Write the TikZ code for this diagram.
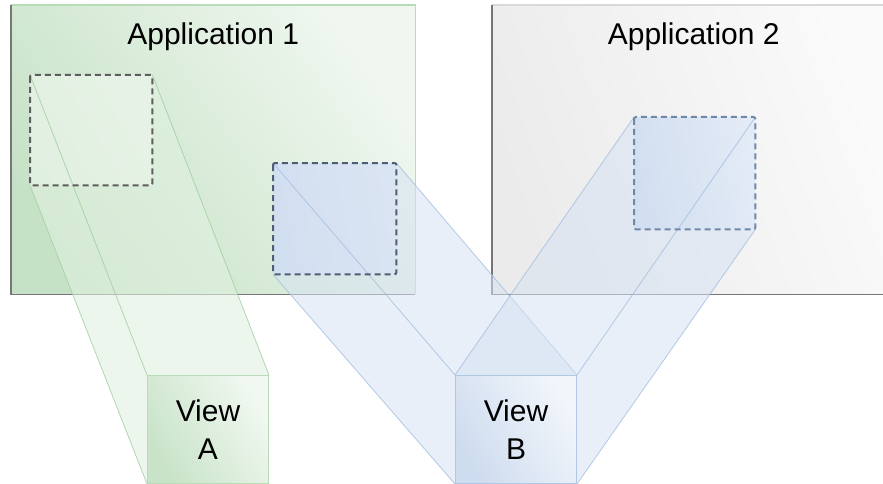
\documentclass[tikz,border=0pt]{standalone}
\usepackage{fontspec}
\setmainfont{Liberation Sans}
\usepackage{xcolor}
\usetikzlibrary{positioning}

\definecolor{appgreenlo}{HTML}{C6E2C6}
\definecolor{appgreenhi}{HTML}{F0F7F0}
\definecolor{appgreenedge}{HTML}{B8DBB8}
\definecolor{appgraylo}{HTML}{EBEBEB}
\definecolor{appgrayhi}{HTML}{FAFAFA}
\definecolor{shadowgray}{HTML}{767676}
\definecolor{viewgreenlo}{HTML}{C8E3C8}
\definecolor{viewgreenhi}{HTML}{F1F8F1}
\definecolor{viewbluelo}{HTML}{CEDCEF}
\definecolor{viewbluehi}{HTML}{F2F6FB}
\definecolor{viewblueedge}{HTML}{B0C8E4}
\definecolor{projgreen}{HTML}{E0F0E0}
\definecolor{projblue}{HTML}{D6E2F2}
\definecolor{edgegreen}{HTML}{A0CEA0}
\definecolor{edgeblue}{HTML}{A2BEDF}
\definecolor{dashgray}{HTML}{5E5E5E}
\definecolor{dashslate}{HTML}{4E5E76}
\definecolor{dashblue}{HTML}{7088A8}

\pgfdeclarelayer{bg}
\pgfdeclarelayer{proj}
\pgfsetlayers{bg,proj,main}

\begin{document}
\begin{tikzpicture}[
    x=1pt, y=-1pt,
    font=\fontsize{30}{38}\selectfont,
    appbox/.style={anchor=north west, inner sep=0pt, minimum height=289pt},
    title/.style={inner sep=0pt},
    win/.style={anchor=north west, inner sep=0pt, rounded corners=2pt},
    winedge/.style={line width=2pt, dash pattern=on 6pt off 4pt, rounded corners=2pt},
    viewbox/.style={anchor=north west, minimum width=121pt, minimum height=108pt, inner sep=0pt, align=center, draw, line width=1pt},
    gproj/.style={fill=projgreen, fill opacity=0.6},
    bproj/.style={fill=projblue, fill opacity=0.55},
    gedge/.style={draw=edgegreen, line width=0.8pt, opacity=0.8},
    bedge/.style={draw=edgeblue, line width=0.8pt, opacity=0.8}
  ]
    \useasboundingbox (0,0) rectangle (883,484);
    \begin{pgfonlayer}{bg}
      \node[appbox, minimum width=404pt, top color=appgreenhi, bottom color=appgreenlo, shading angle=-55] (app1) at (11,5) {};
      \node[appbox, minimum width=391pt, top color=appgrayhi, bottom color=appgraylo, shading angle=-70] (app2) at (492,5) {};
      \draw[draw=appgreenedge, line width=1.2pt] (app1.north west) -| (app1.south east);
      \draw[draw=shadowgray, line width=1.5pt] (app1.north west) |- (app1.south east);
      \draw[draw=gray!30, line width=1.2pt] (app2.north west) -- (app2.north east);
      \draw[draw=shadowgray, line width=1.5pt] (app2.north west) |- (app2.south east);
      \node[win, minimum width=122pt, minimum height=110pt, top color=appgreenhi, bottom color=appgreenlo!50, shading angle=-60] (wina) at (30,75) {};
      \node[win, minimum width=123pt, minimum height=111pt, top color=viewbluehi!50!viewbluelo, bottom color=viewbluelo, shading angle=-80] (winb) at (273,163) {};
      \node[win, minimum width=121pt, minimum height=112pt, top color=viewbluehi, bottom color=viewbluelo, shading angle=-80] (winc) at (634,117) {};
    \end{pgfonlayer}
    \node[title, below=18pt of app1.north] (title1) {Application 1};
    \node[title, below=18pt of app2.north, xshift=6pt] (title2) {Application 2};
    % dashed outlines of the shared regions
    \draw[winedge, draw=dashgray] (wina.north west) rectangle (wina.south east);
    \draw[winedge, draw=dashslate] (winb.north west) rectangle (winb.south east);
    \draw[winedge, draw=dashblue] (winc.north west) rectangle (winc.south east);
    % views
    \node[viewbox, draw=appgreenedge, top color=viewgreenhi, bottom color=viewgreenlo, shading angle=-60] (viewa) at (147,375) {View\\A};
    \node[viewbox, draw=viewblueedge, right=186pt of viewa, top color=viewbluehi, bottom color=viewbluelo, shading angle=-60] (viewb) {View\\B};
    % projections
    \begin{pgfonlayer}{proj}
      \fill[gproj] (wina.north west) -- (wina.north east) -- (viewa.north east) -- (viewa.south east) -- (viewa.south west) -- (wina.south west) -- cycle;
      \draw[gedge] (wina.north west) -- (viewa.north west);
      \draw[gedge] (wina.north east) -- (viewa.north east);
      \draw[gedge] (wina.south west) -- (viewa.south west);
      \fill[bproj] (winb.north west) -- (winb.north east) -- (viewb.north east) -- (viewb.south east) -- (viewb.south west) -- (winb.south west) -- cycle;
      \draw[bedge] (winb.north west) -- (viewb.north west);
      \draw[bedge] (winb.north east) -- (viewb.north east);
      \draw[bedge] (winb.south west) -- (viewb.south west);
      \fill[bproj] (winc.north west) -- (winc.north east) -- (winc.south east) -- (viewb.south east) -- (viewb.south west) -- (viewb.north west) -- cycle;
      \draw[bedge] (winc.north west) -- (viewb.north west);
      \draw[bedge] (winc.north east) -- (viewb.north east);
      \draw[bedge] (winc.south east) -- (viewb.south east);
    \end{pgfonlayer}
  \end{tikzpicture}
\end{document}
